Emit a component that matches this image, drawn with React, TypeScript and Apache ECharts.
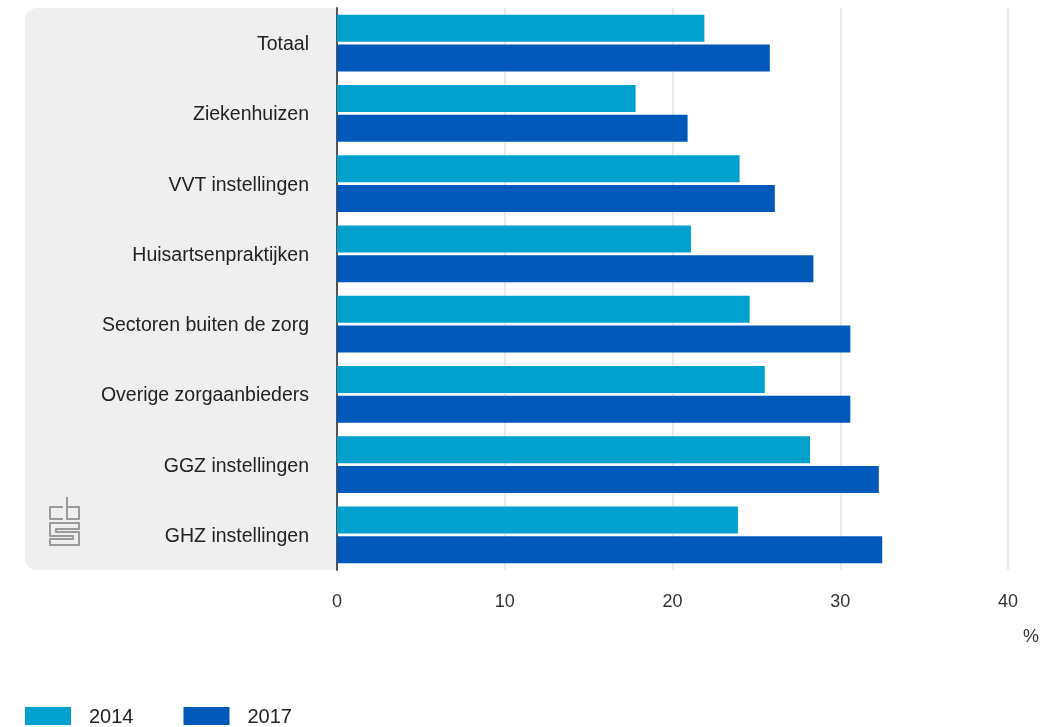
import React, { useEffect, useRef } from "react";
import * as echarts from "echarts";

const categories = [
  "Totaal",
  "Ziekenhuizen",
  "VVT instellingen",
  "Huisartsenpraktijken",
  "Sectoren buiten de zorg",
  "Overige zorgaanbieders",
  "GGZ instellingen",
  "GHZ instellingen",
];
const values2014 = [21.9, 17.8, 24.0, 21.1, 24.6, 25.5, 28.2, 23.9];
const values2017 = [25.8, 20.9, 26.1, 28.4, 30.6, 30.6, 32.3, 32.5];
const seriesNames = ["2014", "2017"];
const xTicks = { min: 0, max: 40, interval: 10 };
const unitLabel = "%";

const LOGO_D =
  "M15,10 H2 V22 H15 M19,0 V22 H31 V10 H19 " +
  "M2,26 H31 V32 H8 V35 H31 V48 H2 V42 H25 V39 H2 Z";

let registered = false;

export default function App() {
  const ref = useRef<HTMLDivElement>(null);
  useEffect(() => {
    if (!registered) {
      echarts.graphic.registerShape("logo", echarts.graphic.extendPath(LOGO_D, {}) as any);
      registered = true;
    }
    const chart = echarts.init(ref.current!, null, { renderer: "svg" });
    const font = "'Liberation Sans', Arial, Helvetica, sans-serif";
    chart.setOption({
      animation: false,
      textStyle: { fontFamily: font },
      grid: { left: 337, right: 45, top: 8, bottom: 157, containLabel: false },
      legend: {
        left: 25,
        top: 706,
        padding: 0,
        itemWidth: 46,
        itemHeight: 18,
        itemGap: 50,
        icon: "rect",
        textStyle: { fontSize: 20, color: "#222", padding: [0, 0, 0, 13], fontFamily: font },
        data: seriesNames,
      },
      xAxis: {
        type: "value",
        min: xTicks.min,
        max: xTicks.max,
        interval: xTicks.interval,
        axisLine: { show: false },
        axisTick: { show: false },
        axisLabel: { fontSize: 18, color: "#333", margin: 22, fontFamily: font },
        splitLine: { show: true, lineStyle: { color: "#e2e2e2", width: 1.5 } },
      },
      yAxis: {
        type: "category",
        data: categories,
        inverse: true,
        axisLine: { show: true, lineStyle: { color: "#555", width: 2 } },
        axisTick: { show: false },
        axisLabel: { fontSize: 19.5, color: "#222", margin: 28, fontFamily: font },
        splitLine: { show: false },
      },
      graphic: [
        {
          type: "rect",
          z: -10,
          shape: { x: 25, y: 8, width: 312, height: 562, r: [12, 0, 0, 12] },
          style: { fill: "#efefef" },
          silent: true,
        },
        {
          type: "logo",
          z: -5,
          x: 48,
          y: 497,
          style: { fill: "none", stroke: "#9a9a9a", lineWidth: 2, lineJoin: "round" },
          silent: true,
        },
        {
          type: "text",
          x: 1023,
          y: 627,
          style: { text: unitLabel, fontSize: 18, fill: "#333", fontFamily: font },
        },
      ],
      series: [
        {
          name: seriesNames[0],
          type: "bar",
          data: values2014,
          itemStyle: { color: "#00a1cd" },
          barGap: "11%",
          barCategoryGap: "19%",
        },
        {
          name: seriesNames[1],
          type: "bar",
          data: values2017,
          itemStyle: { color: "#0058b8" },
          barGap: "11%",
          barCategoryGap: "19%",
        },
      ],
    });
    return () => chart.dispose();
  }, []);
  return (
    <div
      ref={ref}
      style={{ position: "fixed", left: 0, top: 0, width: 1053, height: 727 }}
    />
  );
}
